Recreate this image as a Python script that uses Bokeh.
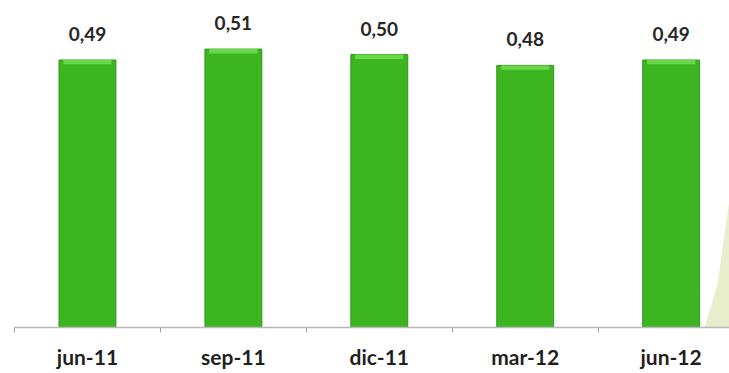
from bokeh.plotting import figure
from bokeh.models import Range1d, FixedTicker, ColumnDataSource, PolyAnnotation
from bokeh.core.properties import value
from bokeh.embed import file_html
from bokeh.resources import INLINE

categories = ["jun-11", "sep-11", "dic-11", "mar-12", "jun-12"]
values = [0.49, 0.51, 0.50, 0.48, 0.49]
value_labels = ["0,49", "0,51", "0,50", "0,48", "0,49"]

xs = list(range(len(categories)))
src = ColumnDataSource(dict(x=xs, top=values, label=value_labels,
                            cap_bottom=[v - 0.008 for v in values]))

p = figure(width=729, height=373, output_backend="svg", toolbar_location=None,
           x_range=Range1d(-0.5, 4.40), y_range=Range1d(0, 0.599),
           min_border_left=14, min_border_right=0, min_border_top=0,
           min_border_bottom=46)
p.outline_line_color = None
p.xgrid.visible = False
p.ygrid.visible = False
p.yaxis.visible = False
p.background_fill_color = "white"
p.border_fill_color = "white"

# decorative light background wedge at the right edge (screen units, y from bottom)
deco = PolyAnnotation(xs=[729, 729, 690, 703], ys=[228, 0, 0, 43],
                      xs_units="screen", ys_units="screen",
                      fill_color="#e6ebc6", fill_alpha=0.9, line_color=None,
                      level="underlay")
p.add_layout(deco)

p.vbar(x="x", top="top", bottom=0, width=0.39, source=src,
       fill_color="#3cb521", line_color="#2f9a1a", line_width=1)
p.vbar(x="x", top="top", bottom="cap_bottom", width=0.33, source=src,
       fill_color="#6ad84a", line_color=None)

p.text(x="x", y="top", text="label", source=src, text_align="center",
       text_baseline="middle", y_offset=-26, text_font=value("Lato"),
       text_font_style="bold", text_font_size="19px", text_color="#262626")

ax = p.xaxis[0]
ax.ticker = FixedTicker(ticks=xs, minor_ticks=[-0.5, 0.5, 1.5, 2.5, 3.5])
ax.major_label_overrides = {i: c for i, c in enumerate(categories)}
ax.major_tick_line_color = None
ax.major_tick_out = 0
ax.major_tick_in = 0
ax.minor_tick_out = 5
ax.minor_tick_in = 0
ax.minor_tick_line_color = "#a0a0a0"
ax.axis_line_color = "#b8b8b8"
ax.axis_line_width = 1.5
ax.major_label_text_font = "Lato"
ax.major_label_text_font_style = "bold"
ax.major_label_text_font_size = "21px"
ax.major_label_text_color = "#1f1f1f"
ax.major_label_standoff = 11

open("out.html", "w").write(file_html(p, INLINE))
